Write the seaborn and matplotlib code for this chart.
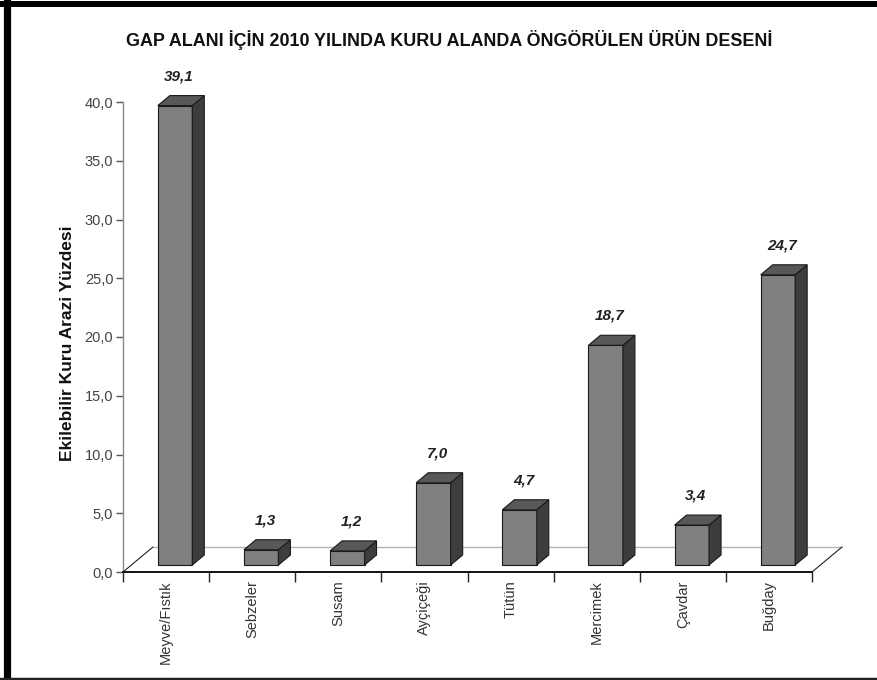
import matplotlib
matplotlib.use('Agg')
import matplotlib.pyplot as plt
from matplotlib.patches import Polygon
from matplotlib.lines import Line2D
from matplotlib.ticker import FuncFormatter, MultipleLocator, FixedLocator
import seaborn as sns
import pandas as pd

# Veriler
urunler = ['Meyve/Fıstık', 'Sebzeler', 'Susam', 'Ayçiçeği', 'Tütün', 'Mercimek', 'Çavdar', 'Buğday']
yuzdeler = [39.1, 1.3, 1.2, 7.0, 4.7, 18.7, 3.4, 24.7]

baslik = 'GAP ALANI İÇİN 2010 YILINDA KURU ALANDA ÖNGÖRÜLEN ÜRÜN DESENİ'
y_etiket = 'Ekilebilir Kuru Arazi Yüzdesi'

sns.set_style('white')
plt.rcParams['font.family'] = ['Liberation Sans', 'DejaVu Sans']

fig = plt.figure(figsize=(8.77, 6.80), dpi=100)
ax = fig.add_axes([123 / 877, 108 / 680, 689 / 877, 470 / 680])

df = pd.DataFrame({'urun': urunler, 'yuzde': yuzdeler})
sns.barplot(data=df, x='urun', y='yuzde', color='#808080', saturation=1,
            width=0.4, edgecolor='#1a1a1a', linewidth=0.8, ax=ax, zorder=3)

ax.set_xlim(-0.5, len(urunler) - 0.5)
ax.set_ylim(0, 40)

# piksel -> veri birimi
bb = ax.get_window_extent()
px_x = (ax.get_xlim()[1] - ax.get_xlim()[0]) / bb.width
px_y = (ax.get_ylim()[1] - ax.get_ylim()[0]) / bb.height

# 3B derinlik ayarlari (piksel)
kaydir_x, kaydir_y = 9 * px_x, 7 * px_y      # cubuklarin zemindeki yeri
derin_x, derin_y = 12 * px_x, 10 * px_y      # cubuk derinligi
zemin_x, zemin_y = 30 * px_x, 25 * px_y      # zemin derinligi

# Zemin cizgileri
x0, x1 = ax.get_xlim()
ax.plot([x0 + zemin_x, x1 + zemin_x], [zemin_y, zemin_y], color='#b4b4b4', lw=1.0,
        clip_on=False, zorder=1)
ax.plot([x0, x0 + zemin_x], [0, zemin_y], color='#222222', lw=0.8, clip_on=False, zorder=1)
ax.plot([x1, x1 + zemin_x], [0, zemin_y], color='#222222', lw=0.8, clip_on=False, zorder=1)

for bar, deger in zip(ax.patches, yuzdeler):
    bar.set_x(bar.get_x() + kaydir_x)
    bar.set_y(kaydir_y)
    xl = bar.get_x()
    xr = xl + bar.get_width()
    yb = bar.get_y()
    yt = yb + bar.get_height()
    yan = Polygon([(xr, yb), (xr + derin_x, yb + derin_y), (xr + derin_x, yt + derin_y), (xr, yt)],
                  closed=True, facecolor='#3d3d3d', edgecolor='#1a1a1a', lw=0.8,
                  clip_on=False, zorder=3)
    ust = Polygon([(xl, yt), (xr, yt), (xr + derin_x, yt + derin_y), (xl + derin_x, yt + derin_y)],
                  closed=True, facecolor='#585858', edgecolor='#1a1a1a', lw=0.8,
                  clip_on=False, zorder=3)
    ax.add_patch(yan)
    ax.add_patch(ust)
    ax.annotate(f'{deger:.1f}'.replace('.', ','), xy=((xl + xr) / 2 + derin_x / 3, yt + derin_y),
                xytext=(0, 9), textcoords='offset points', ha='center', va='bottom',
                fontsize=11, fontweight='bold', fontstyle='italic', color='#222222',
                annotation_clip=False)

# Eksenler
for s in ['top', 'right']:
    ax.spines[s].set_visible(False)
ax.spines['left'].set_color('#8a8a8a')
ax.spines['left'].set_linewidth(1.0)
ax.spines['bottom'].set_color('#111111')
ax.spines['bottom'].set_linewidth(1.4)

ax.yaxis.set_major_locator(MultipleLocator(5))
ax.yaxis.set_major_formatter(FuncFormatter(lambda v, p: f'{v:.1f}'.replace('.', ',')))
ax.tick_params(axis='y', which='major', length=5, width=1, color='#555555',
               labelsize=10.5, labelcolor='#444444', pad=2, left=True)

ax.xaxis.set_minor_locator(FixedLocator([i - 0.5 for i in range(len(urunler) + 1)]))
ax.tick_params(axis='x', which='minor', length=7, width=1, color='#222222', bottom=True)
ax.tick_params(axis='x', which='major', length=0, pad=6, labelsize=10.5,
               labelcolor='#333333', labelrotation=90)
ax.set_xlabel('')
ax.set_ylabel('')

fig.text(68 / 877, 1 - 343 / 680, y_etiket, rotation=90, ha='center', va='center',
         fontsize=12.5, fontweight='bold', color='#111111')
fig.text(449 / 877, 1 - 40 / 680, baslik, ha='center', va='center',
         fontsize=12.9, fontweight='bold', color='#111111')

# Cerceve
fig.add_artist(Line2D([0, 1], [1 - 4 / 680, 1 - 4 / 680], color='black', lw=4.3))
fig.add_artist(Line2D([7 / 877, 7 / 877], [0, 1], color='black', lw=5.2))
fig.add_artist(Line2D([0, 1], [1.5 / 680, 1.5 / 680], color='#222222', lw=2.5))

plt.savefig('out.png', dpi=100)
